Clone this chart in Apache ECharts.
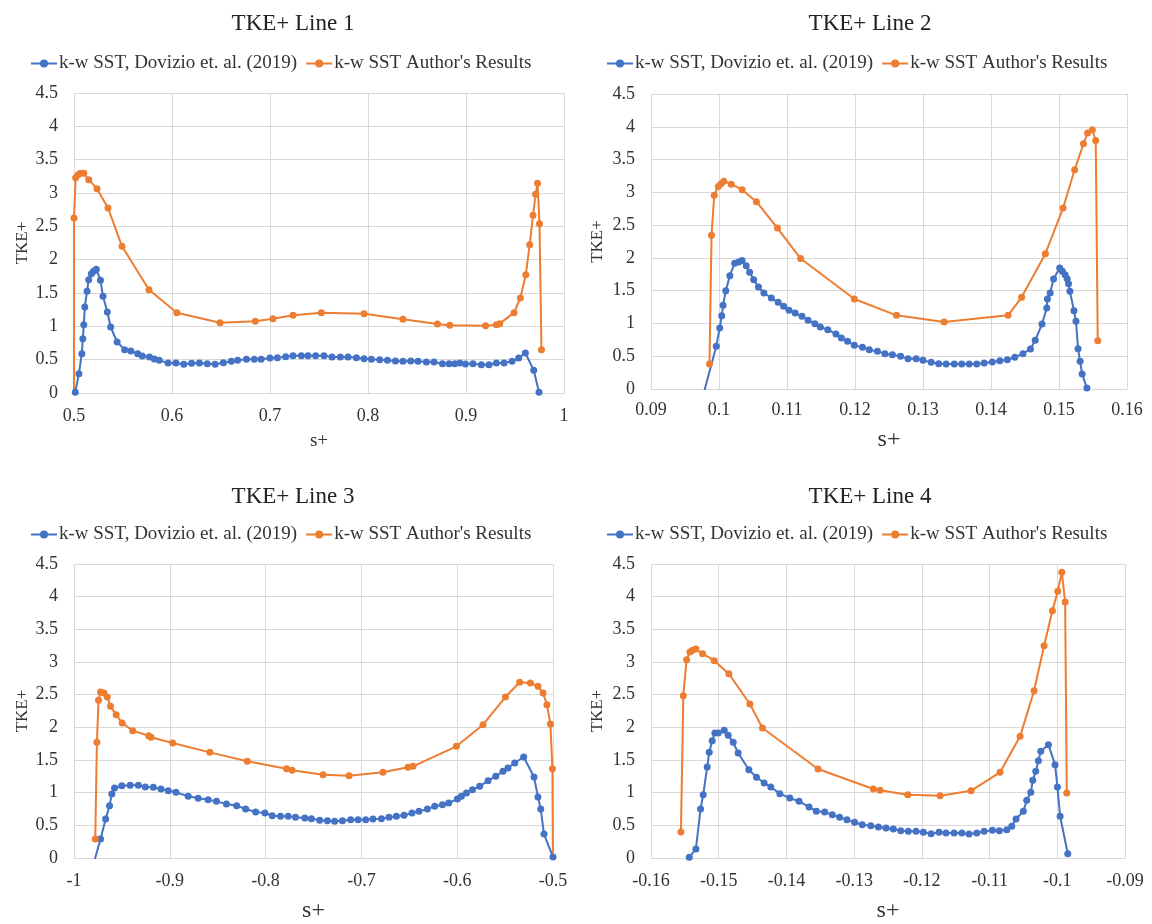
<!DOCTYPE html>
<html>
<head>
<meta charset="utf-8">
<script src="https://cdn.jsdelivr.net/npm/echarts@6/dist/echarts.min.js"></script>
<style>
html,body{margin:0;padding:0;background:#fff;}
#main{width:1152px;height:924px;}
</style>
</head>
<body>
<div id="main"></div>
<script>
// ---- Data ----
const seriesNames = ["k-w SST, Dovizio et. al. (2019)", "k-w SST Author's Results"];
const panelTitles = ["TKE+ Line 1", "TKE+ Line 2", "TKE+ Line 3", "TKE+ Line 4"];
const xAxisName = "s+";
const yAxisName = "TKE+";

// Line 1
const l1BlueX = [0.5013,0.505,0.508,0.509,0.510,0.511,0.5133,0.515,0.5177,0.52,0.5228,0.527,0.5296,0.534,0.5374,0.544,0.5517,0.558,0.565,0.5697,0.577,0.582,0.587,0.596,0.604,0.612,0.62,0.628,0.636,0.644,0.6524,0.6605,0.667,0.676,0.684,0.691,0.70,0.7075,0.716,0.7235,0.732,0.7388,0.7466,0.7551,0.7633,0.7718,0.7796,0.7882,0.796,0.8035,0.812,0.8198,0.828,0.8357,0.8436,0.851,0.8596,0.8673,0.8759,0.8827,0.8885,0.8936,0.8994,0.9071,0.9157,0.9235,0.931,0.9388,0.947,0.9538,0.9606,0.9691,0.9745];
const l1BlueY = [0.01,0.29,0.59,0.815,1.025,1.29,1.525,1.70,1.79,1.825,1.855,1.69,1.45,1.215,0.99,0.765,0.65,0.63,0.59,0.555,0.54,0.51,0.49,0.45,0.45,0.43,0.445,0.45,0.44,0.43,0.455,0.475,0.49,0.505,0.505,0.505,0.525,0.53,0.545,0.56,0.56,0.56,0.56,0.56,0.54,0.54,0.54,0.53,0.515,0.505,0.50,0.49,0.48,0.475,0.48,0.475,0.465,0.465,0.44,0.44,0.44,0.45,0.435,0.44,0.425,0.425,0.45,0.45,0.475,0.525,0.60,0.34,0.01];
const l1OrangeX = [0.5,0.5,0.5017,0.504,0.5065,0.51,0.515,0.5235,0.5347,0.549,0.5765,0.605,0.649,0.685,0.703,0.7235,0.7524,0.796,0.8357,0.8708,0.8834,0.92,0.931,0.9344,0.949,0.9555,0.961,0.965,0.9684,0.971,0.973,0.975,0.977];
const l1OrangeY = [-0.3,2.625,3.23,3.27,3.295,3.295,3.2,3.065,2.775,2.2,1.55,1.205,1.055,1.075,1.115,1.165,1.205,1.19,1.105,1.035,1.015,1.01,1.025,1.04,1.205,1.425,1.775,2.225,2.665,2.98,3.145,2.54,0.65];

// Line 2
const l2BlueX = [0.0974,0.0996,0.1001,0.1004,0.1006,0.101,0.1016,0.1023,0.1029,0.1034,0.104,0.1045,0.1051,0.1058,0.1066,0.1077,0.1087,0.1095,0.1103,0.1112,0.1122,0.1131,0.1141,0.1149,0.116,0.1172,0.118,0.1189,0.1199,0.1211,0.1221,0.1233,0.1244,0.1255,0.1267,0.1278,0.129,0.130,0.1312,0.1323,0.1334,0.1346,0.1357,0.1368,0.1379,0.139,0.1402,0.1413,0.1424,0.1435,0.1447,0.1458,0.1465,0.1475,0.1482,0.1483,0.1487,0.1492,0.1501,0.1505,0.1509,0.1512,0.1514,0.1516,0.1522,0.1525,0.1528,0.1531,0.1534,0.1541];
const l2BlueY = [-0.2,0.651,0.93,1.118,1.276,1.50,1.728,1.92,1.937,1.962,1.881,1.78,1.668,1.556,1.464,1.388,1.322,1.261,1.20,1.16,1.108,1.047,0.996,0.946,0.905,0.839,0.778,0.727,0.666,0.635,0.60,0.574,0.539,0.524,0.498,0.463,0.463,0.437,0.407,0.386,0.381,0.381,0.381,0.381,0.381,0.397,0.412,0.432,0.447,0.483,0.539,0.61,0.742,0.991,1.235,1.373,1.464,1.678,1.845,1.795,1.744,1.683,1.607,1.49,1.195,1.032,0.615,0.422,0.229,0.015];
const l2OrangeX = [0.0986,0.0989,0.0993,0.0999,0.1003,0.1007,0.1018,0.1034,0.1055,0.1086,0.112,0.1199,0.1261,0.1331,0.1425,0.1445,0.148,0.1506,0.1523,0.1536,0.1542,0.1549,0.1554,0.1557];
const l2OrangeY = [0.38,2.345,2.955,3.09,3.13,3.17,3.125,3.04,2.857,2.455,1.99,1.373,1.124,1.022,1.124,1.398,2.064,2.76,3.345,3.74,3.905,3.955,3.79,0.737];

// Line 3
const l3BlueX = [-0.9813,-0.9723,-0.967,-0.9629,-0.9605,-0.9577,-0.9501,-0.9414,-0.9328,-0.9255,-0.9172,-0.9092,-0.9016,-0.8936,-0.8808,-0.8704,-0.86,-0.8513,-0.8409,-0.8302,-0.8208,-0.8104,-0.8007,-0.7931,-0.7844,-0.7764,-0.7688,-0.7591,-0.7522,-0.7435,-0.7355,-0.7279,-0.7198,-0.7112,-0.7035,-0.6955,-0.6879,-0.6791,-0.6712,-0.6635,-0.6555,-0.6472,-0.6399,-0.6311,-0.6235,-0.6154,-0.6089,-0.5998,-0.5956,-0.5904,-0.5841,-0.5765,-0.5678,-0.5598,-0.5522,-0.547,-0.54,-0.5306,-0.5198,-0.5157,-0.5128,-0.5094,-0.5];
const l3BlueY = [-0.18,0.291,0.597,0.801,0.98,1.071,1.107,1.112,1.112,1.087,1.082,1.056,1.031,1.005,0.944,0.913,0.893,0.867,0.827,0.801,0.75,0.704,0.689,0.648,0.638,0.638,0.622,0.612,0.602,0.577,0.571,0.561,0.571,0.587,0.587,0.587,0.597,0.602,0.622,0.638,0.653,0.689,0.714,0.75,0.791,0.816,0.842,0.903,0.944,0.995,1.046,1.097,1.184,1.25,1.327,1.378,1.454,1.546,1.24,0.934,0.75,0.367,0.015];
const l3OrangeX = [-0.9778,-0.9761,-0.9744,-0.9723,-0.9688,-0.9653,-0.9619,-0.956,-0.9497,-0.9387,-0.922,-0.9196,-0.897,-0.8582,-0.8191,-0.7782,-0.7723,-0.74,-0.7129,-0.6775,-0.6514,-0.6461,-0.6008,-0.5731,-0.5497,-0.5348,-0.5236,-0.5157,-0.5104,-0.5063,-0.5027,-0.5006,-0.5];
const l3OrangeY = [0.291,1.77,2.413,2.54,2.526,2.464,2.321,2.194,2.066,1.949,1.872,1.847,1.76,1.617,1.48,1.367,1.342,1.276,1.26,1.311,1.388,1.403,1.709,2.041,2.464,2.689,2.679,2.628,2.526,2.347,2.051,1.367,-0.3];

// Line 4
const l4BlueX = [-0.15435,-0.15337,-0.15268,-0.15229,-0.1517,-0.1514,-0.15096,-0.15057,-0.15007,-0.14919,-0.1486,-0.14786,-0.14713,-0.14555,-0.14442,-0.14329,-0.14231,-0.14098,-0.13951,-0.13813,-0.13666,-0.13558,-0.13435,-0.13322,-0.13214,-0.13106,-0.12993,-0.1288,-0.12755,-0.12642,-0.12529,-0.12421,-0.12312,-0.122,-0.12086,-0.11978,-0.11864,-0.11746,-0.11643,-0.11524,-0.1141,-0.11303,-0.11189,-0.11081,-0.10958,-0.10855,-0.10746,-0.10672,-0.10609,-0.10501,-0.10451,-0.10391,-0.10362,-0.10318,-0.10279,-0.10244,-0.10131,-0.10033,-0.09998,-0.09958,-0.09845];
const l4BlueY = [0.01,0.138,0.75,0.969,1.393,1.617,1.796,1.913,1.913,1.954,1.878,1.77,1.607,1.352,1.235,1.148,1.087,0.985,0.918,0.867,0.781,0.714,0.704,0.663,0.622,0.587,0.546,0.51,0.495,0.474,0.459,0.444,0.418,0.408,0.408,0.393,0.372,0.393,0.383,0.383,0.383,0.367,0.383,0.408,0.423,0.418,0.434,0.485,0.597,0.714,0.883,1.005,1.189,1.327,1.49,1.633,1.735,1.429,1.087,0.638,0.066];
const l4OrangeX = [-0.15558,-0.15523,-0.15474,-0.15425,-0.15386,-0.15337,-0.15238,-0.15066,-0.1485,-0.1454,-0.14354,-0.13533,-0.12716,-0.12617,-0.12208,-0.11731,-0.11273,-0.10845,-0.10549,-0.10343,-0.10195,-0.10072,-0.09993,-0.09933,-0.09884,-0.0986];
const l4OrangeY = [0.398,2.485,3.036,3.153,3.179,3.199,3.128,3.02,2.821,2.357,1.99,1.362,1.056,1.036,0.969,0.954,1.031,1.311,1.862,2.561,3.25,3.786,4.082,4.372,3.918,0.995];

// Axis ranges
const xMins = [0.5, 0.09, -1, -0.16];
const xMaxs = [1, 0.16, -0.5, -0.09];
const xIntervals = [0.1, 0.01, 0.1, 0.01];
const yMin = 0, yMax = 4.5, yInterval = 0.5;

// ---- Build ----
const zip = (xs, ys) => xs.map((x, i) => [x, ys[i]]);
const blueData = [zip(l1BlueX, l1BlueY), zip(l2BlueX, l2BlueY), zip(l3BlueX, l3BlueY), zip(l4BlueX, l4BlueY)];
const orangeData = [zip(l1OrangeX, l1OrangeY), zip(l2OrangeX, l2OrangeY), zip(l3OrangeX, l3OrangeY), zip(l4OrangeX, l4OrangeY)];

const FONT = "'Liberation Serif', 'Times New Roman', serif";
const TXT = '#333';
const BLUE = '#4472C4', ORANGE = '#ED7D31';
const GRIDC = '#d9d9d9';

const grids = [
  {left: 74, top: 93, width: 490, height: 300},
  {left: 651, top: 94, width: 476, height: 295},
  {left: 74, top: 564, width: 479, height: 294},
  {left: 651, top: 564, width: 474, height: 294}
];
const titleCenters = [[288, 7], [865, 7], [288, 480], [865, 480]];
const legendPos = [[25, 49], [601, 49], [25, 520], [601, 520]];
const xNameSizes = [19, 24, 24, 24];
const xNameGaps = [39, 39, 41, 41];
const xLabelMargins = [14, 12, 14, 14];
const yNameGaps = [43, 45, 43, 45];

const option = {
  backgroundColor: '#fff',
  animation: false,
  textStyle: {fontFamily: FONT, color: TXT},
  title: panelTitles.map((t, i) => ({
    text: t, left: titleCenters[i][0], top: titleCenters[i][1], textAlign: 'center',
    textStyle: {fontFamily: FONT, fontSize: 23, fontWeight: 'normal', color: '#222'}
  })),
  legend: [0,1,2,3].map(i => ({
    left: legendPos[i][0], top: legendPos[i][1],
    data: seriesNames, itemGap: 8, itemWidth: 26, itemHeight: 10,
    selectedMode: false,
    textStyle: {fontFamily: FONT, fontSize: 19, color: '#333', padding: [0, 0, 0, -3]}
  })),
  grid: grids,
  xAxis: [0,1,2,3].map(i => ({
    type: 'value', gridIndex: i, min: xMins[i], max: xMaxs[i], interval: xIntervals[i],
    name: xAxisName, nameLocation: 'middle', nameGap: xNameGaps[i],
    nameTextStyle: {fontFamily: FONT, fontSize: xNameSizes[i], color: TXT},
    axisLine: {show: true, onZero: false, lineStyle: {color: GRIDC, width: 1}},
    axisTick: {show: false},
    splitLine: {show: true, lineStyle: {color: GRIDC, width: 1}},
    axisLabel: {fontFamily: FONT, fontSize: 18, color: TXT, margin: xLabelMargins[i],
      formatter: v => String(Math.round(v * 1000) / 1000)}
  })),
  yAxis: [0,1,2,3].map(i => ({
    type: 'value', gridIndex: i, min: yMin, max: yMax, interval: yInterval,
    name: yAxisName, nameLocation: 'middle', nameGap: yNameGaps[i], nameRotate: 90,
    nameTextStyle: {fontFamily: FONT, fontSize: 17, color: TXT},
    axisLine: {show: false}, axisTick: {show: false},
    splitLine: {show: true, lineStyle: {color: GRIDC, width: 1}},
    axisLabel: {fontFamily: FONT, fontSize: 18, color: TXT, margin: 16,
      formatter: v => String(Math.round(v * 10) / 10)}
  })),
  series: []
};

for (let i = 0; i < 4; i++) {
  option.series.push({
    name: seriesNames[0], type: 'line', xAxisIndex: i, yAxisIndex: i,
    data: blueData[i], symbol: 'circle', symbolSize: 7, clip: true,
    lineStyle: {color: BLUE, width: 2}, itemStyle: {color: BLUE}
  });
  option.series.push({
    name: seriesNames[1], type: 'line', xAxisIndex: i, yAxisIndex: i,
    data: orangeData[i], symbol: 'circle', symbolSize: 7, clip: true,
    lineStyle: {color: ORANGE, width: 2}, itemStyle: {color: ORANGE}
  });
}

const chart = echarts.init(document.getElementById('main'), null, {renderer: 'canvas'});
chart.setOption(option);
</script>
</body>
</html>
